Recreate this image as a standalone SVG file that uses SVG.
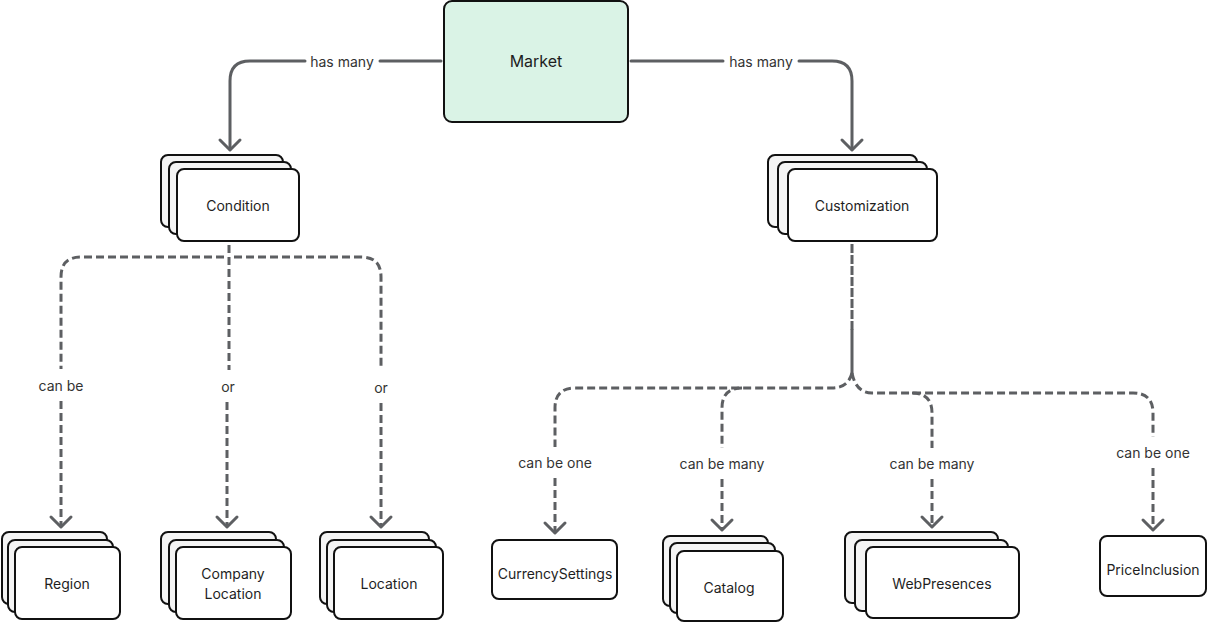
<svg xmlns="http://www.w3.org/2000/svg" width="1207" height="623" viewBox="0 0 1207 623">
<style>
.box{fill:#ffffff;stroke:#111111;stroke-width:2}
.back{fill:#f4f4f4;stroke:#111111;stroke-width:2}
.market{fill:#daf3e6;stroke:#111111;stroke-width:2}
.nl{font-family:Inter,"Liberation Sans",sans-serif;font-size:14px;fill:#1e1e1e;text-anchor:middle;dominant-baseline:central}
.el{font-family:Inter,"Liberation Sans",sans-serif;font-size:14px;fill:#333333;text-anchor:middle;dominant-baseline:central}
.solid{fill:none;stroke:#5d5f62;stroke-width:3;stroke-linecap:round;stroke-linejoin:round}
.dash{fill:none;stroke:#5d5f62;stroke-width:3;stroke-dasharray:8 4}
.head{fill:none;stroke:#5d5f62;stroke-width:3;stroke-linecap:round;stroke-linejoin:round}
</style>
<rect width="1207" height="623" fill="#ffffff"/>
<g id="connectors">
  <path class="solid" d="M441,61 H380"/>
  <path class="solid" d="M305,61 H250 Q230,61 230,81 V149"/>
  <path class="head" d="M220,140 L230,150 L240,140"/>
  <path class="solid" d="M631,61 H723"/>
  <path class="solid" d="M799,61 H832 Q852,61 852,81 V149"/>
  <path class="head" d="M842,140 L852,150 L862,140"/>
  <path class="dash" d="M229,245 V370"/>
  <path class="dash" d="M227,402 V525"/>
  <path class="head" d="M217,517 L227,527 L237,517"/>
  <path class="dash" d="M224,257 H81 Q61,257 61,277 V369"/>
  <path class="dash" d="M61,401 V525"/>
  <path class="head" d="M51,517 L61,527 L71,517"/>
  <path class="dash" d="M234,257 H361 Q381,257 381,277 V369"/>
  <path class="dash" d="M381,403 V525"/>
  <path class="head" d="M371,517 L381,527 L391,517"/>
  <path class="dash" d="M852,244 V330" style="stroke-dasharray:9 2"/>
  <path class="solid" d="M852,330 V373"/>
  <path class="dash" d="M852,373 Q848,388 832,388 H575 Q555,388 555,408 V447"/>
  <path class="dash" d="M555,478 V531"/>
  <path class="head" d="M545,523 L555,533 L565,523"/>
  <path class="dash" d="M742,388 Q722,388 722,408 V448"/>
  <path class="dash" d="M722,479 V528"/>
  <path class="head" d="M712,520 L722,530 L732,520"/>
  <path class="dash" d="M852,373 Q856,393 872,393 H1133 Q1153,393 1153,413 V437"/>
  <path class="dash" d="M912,393 Q932,393 932,413 V448"/>
  <path class="dash" d="M932,479 V525"/>
  <path class="head" d="M922,517 L932,527 L942,517"/>
  <path class="dash" d="M1153,468 V528"/>
  <path class="head" d="M1143,520 L1153,530 L1163,520"/>
  <text class="el" x="342" y="61">has many</text>
  <text class="el" x="761" y="61">has many</text>
  <text class="el" x="61" y="385">can be</text>
  <text class="el" x="228" y="386">or</text>
  <text class="el" x="381" y="387">or</text>
  <text class="el" x="555" y="462">can be one</text>
  <text class="el" x="722" y="463">can be many</text>
  <text class="el" x="932" y="463">can be many</text>
  <text class="el" x="1153" y="452">can be one</text>
</g>
<g id="market">
  <rect class="market" x="444" y="1" width="184" height="121" rx="8"/>
  <text class="nl" x="536" y="61" style="font-size:16px">Market</text>
</g>
<g id="condition">
  <rect class="back" x="161" y="155" width="122" height="72" rx="7"/>
  <rect class="back" x="169" y="162" width="122" height="72" rx="7"/>
  <rect class="box" x="177" y="169" width="122" height="72" rx="7"/>
  <text class="nl" x="238" y="205">Condition</text>
</g>
<g id="customization">
  <rect class="back" x="768" y="155" width="149" height="72" rx="7"/>
  <rect class="back" x="778" y="162" width="149" height="72" rx="7"/>
  <rect class="box" x="788" y="169" width="149" height="72" rx="7"/>
  <text class="nl" x="862" y="205">Customization</text>
</g>
<g id="region">
  <rect class="back" x="2" y="532" width="105" height="72" rx="7"/>
  <rect class="back" x="8" y="540" width="105" height="72" rx="7"/>
  <rect class="box" x="15" y="547" width="105" height="72" rx="7"/>
  <text class="nl" x="67" y="583">Region</text>
</g>
<g id="company-location">
  <rect class="back" x="161" y="532" width="115" height="72" rx="7"/>
  <rect class="back" x="169" y="540" width="115" height="72" rx="7"/>
  <rect class="box" x="176" y="547" width="115" height="72" rx="7"/>
  <text class="nl" x="233" y="573">Company</text>
  <text class="nl" x="233" y="593">Location</text>
</g>
<g id="location">
  <rect class="back" x="320" y="532" width="109" height="72" rx="7"/>
  <rect class="back" x="327" y="540" width="109" height="72" rx="7"/>
  <rect class="box" x="334" y="547" width="109" height="72" rx="7"/>
  <text class="nl" x="389" y="583">Location</text>
</g>
<g id="currency-settings">
  <rect class="box" x="492" y="540" width="125" height="59" rx="7"/>
  <text class="nl" x="555" y="573">CurrencySettings</text>
</g>
<g id="catalog">
  <rect class="back" x="663" y="536" width="105" height="70" rx="7"/>
  <rect class="back" x="670" y="543" width="105" height="70" rx="7"/>
  <rect class="box" x="677" y="551" width="106" height="70" rx="7"/>
  <text class="nl" x="729" y="587">Catalog</text>
</g>
<g id="web-presences">
  <rect class="back" x="845" y="532" width="153" height="71" rx="7"/>
  <rect class="back" x="855" y="540" width="153" height="71" rx="7"/>
  <rect class="box" x="866" y="547" width="153" height="71" rx="7"/>
  <text class="nl" x="942" y="583">WebPresences</text>
</g>
<g id="price-inclusion">
  <rect class="box" x="1100" y="536" width="106" height="60" rx="7"/>
  <text class="nl" x="1153" y="569">PriceInclusion</text>
</g>
</svg>
